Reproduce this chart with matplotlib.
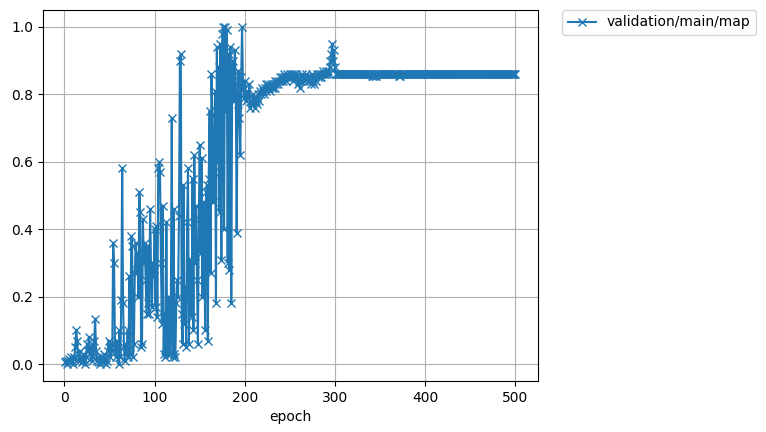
import matplotlib
matplotlib.use("Agg")
import matplotlib.pyplot as plt

series_label = "validation/main/map"
x_label = "epoch"

map_1_100 = [
    0.005, 0.01, 0.0, 0.01, 0.015, 0.005, 0.02, 0.01, 0.0, 0.015,
    0.02, 0.05, 0.1, 0.07, 0.03, 0.01, 0.04, 0.02, 0.005, 0.01,
    0.03, 0.015, 0.0, 0.02, 0.06, 0.04, 0.08, 0.03, 0.05, 0.01,
    0.06, 0.02, 0.07, 0.135, 0.04, 0.01, 0.02, 0.005, 0.0, 0.01,
    0.02, 0.01, 0.005, 0.03, 0.015, 0.0, 0.01, 0.04, 0.07, 0.05,
    0.02, 0.06, 0.04, 0.36, 0.30, 0.05, 0.02, 0.07, 0.04, 0.0,
    0.10, 0.02, 0.19, 0.58, 0.18, 0.05, 0.01, 0.06, 0.03, 0.10,
    0.02, 0.26, 0.03, 0.38, 0.35, 0.02, 0.06, 0.27, 0.36, 0.28,
    0.33, 0.20, 0.51, 0.45, 0.05, 0.06, 0.43, 0.30, 0.36, 0.25,
    0.15, 0.35, 0.18, 0.15, 0.46, 0.28, 0.17, 0.30, 0.26, 0.40,
]
map_101_200 = [
    0.17, 0.41, 0.14, 0.58, 0.60, 0.57, 0.30, 0.12, 0.47, 0.03,
    0.15, 0.02, 0.42, 0.03, 0.08, 0.20, 0.03, 0.19, 0.73, 0.02,
    0.46, 0.03, 0.02, 0.18, 0.25, 0.20, 0.44, 0.90, 0.92, 0.15,
    0.06, 0.53, 0.12, 0.23, 0.05, 0.42, 0.58, 0.06, 0.23, 0.31,
    0.14, 0.55, 0.10, 0.62, 0.30, 0.47, 0.25, 0.06, 0.43, 0.65,
    0.33, 0.61, 0.20, 0.48, 0.43, 0.10, 0.51, 0.53, 0.07, 0.55,
    0.75, 0.27, 0.86, 0.74, 0.48, 0.57, 0.81, 0.18, 0.94, 0.60,
    0.88, 0.45, 0.95, 0.31, 0.98, 1.0, 0.40, 1.0, 0.75, 0.99,
    0.30, 0.92, 0.28, 0.94, 0.18, 0.84, 0.90, 0.78, 0.93, 0.83,
    0.39, 0.77, 0.87, 0.73, 0.62, 0.85, 1.0, 0.82, 0.79, 0.84,
]
map_201_300 = [
    0.78, 0.80, 0.81, 0.79, 0.83, 0.76, 0.78, 0.77, 0.80, 0.79,
    0.76, 0.78, 0.77, 0.79, 0.80, 0.78, 0.81, 0.80, 0.82, 0.81,
    0.80, 0.82, 0.83, 0.81, 0.82, 0.83, 0.82, 0.81, 0.83, 0.82,
    0.82, 0.83, 0.84, 0.82, 0.83, 0.84, 0.83, 0.84, 0.85, 0.84,
    0.85, 0.84, 0.85, 0.86, 0.85, 0.84, 0.86, 0.85, 0.85, 0.86,
    0.85, 0.86, 0.85, 0.84, 0.86, 0.85, 0.86, 0.85, 0.83, 0.84,
    0.82, 0.84, 0.85, 0.86, 0.85, 0.84, 0.85, 0.86, 0.85, 0.84,
    0.85, 0.84, 0.83, 0.85, 0.86, 0.84, 0.83, 0.85, 0.84, 0.86,
    0.85, 0.86, 0.85, 0.86, 0.85, 0.86, 0.87, 0.86, 0.86, 0.87,
    0.86, 0.87, 0.86, 0.88, 0.90, 0.92, 0.95, 0.90, 0.93, 0.88,
]
map_301_400 = [
    0.86, 0.86, 0.86, 0.86, 0.86, 0.86, 0.86, 0.86, 0.86, 0.86,
    0.86, 0.86, 0.86, 0.86, 0.86, 0.86, 0.86, 0.86, 0.86, 0.86,
    0.86, 0.86, 0.86, 0.86, 0.86, 0.86, 0.86, 0.86, 0.86, 0.86,
    0.86, 0.86, 0.86, 0.86, 0.86, 0.86, 0.86, 0.86, 0.86, 0.86,
    0.855, 0.855, 0.86, 0.855, 0.855, 0.86, 0.86, 0.86, 0.86, 0.86,
    0.86, 0.86, 0.86, 0.86, 0.86, 0.86, 0.86, 0.86, 0.86, 0.86,
    0.86, 0.86, 0.86, 0.86, 0.86, 0.86, 0.86, 0.86, 0.86, 0.86,
    0.855, 0.855, 0.86, 0.86, 0.86, 0.86, 0.86, 0.86, 0.86, 0.86,
    0.86, 0.86, 0.86, 0.86, 0.86, 0.86, 0.86, 0.86, 0.86, 0.86,
    0.86, 0.86, 0.86, 0.86, 0.86, 0.86, 0.86, 0.86, 0.86, 0.86,
]
map_401_500 = [
    0.86, 0.86, 0.86, 0.86, 0.86, 0.86, 0.86, 0.86, 0.86, 0.86,
    0.86, 0.86, 0.86, 0.86, 0.86, 0.86, 0.86, 0.86, 0.86, 0.86,
    0.86, 0.86, 0.86, 0.86, 0.86, 0.86, 0.86, 0.86, 0.86, 0.86,
    0.86, 0.86, 0.86, 0.86, 0.86, 0.86, 0.86, 0.86, 0.86, 0.86,
    0.86, 0.86, 0.86, 0.86, 0.86, 0.86, 0.86, 0.86, 0.86, 0.86,
    0.86, 0.86, 0.86, 0.86, 0.86, 0.86, 0.86, 0.86, 0.86, 0.86,
    0.86, 0.86, 0.86, 0.86, 0.86, 0.86, 0.86, 0.86, 0.86, 0.86,
    0.86, 0.86, 0.86, 0.86, 0.86, 0.86, 0.86, 0.86, 0.86, 0.86,
    0.86, 0.86, 0.86, 0.86, 0.86, 0.86, 0.86, 0.86, 0.86, 0.86,
    0.86, 0.86, 0.86, 0.86, 0.86, 0.86, 0.86, 0.86, 0.86, 0.86,
]

values = map_1_100 + map_101_200 + map_201_300 + map_301_400 + map_401_500
epochs = list(range(1, len(values) + 1))

fig = plt.figure(figsize=(7.66, 4.32), dpi=100)
ax = fig.add_axes([0.056, 0.118, 0.646, 0.859])
ax.plot(epochs, values, marker="x", color="#1f77b4", label=series_label)
ax.set_xlabel(x_label)
ax.grid(True)
ax.set_yticks([0.0, 0.2, 0.4, 0.6, 0.8, 1.0])
ax.set_xticks([0, 100, 200, 300, 400, 500])
ax.legend(bbox_to_anchor=(1.05, 1), loc="upper left", borderaxespad=0.0)
fig.savefig("out.png", dpi=100)
